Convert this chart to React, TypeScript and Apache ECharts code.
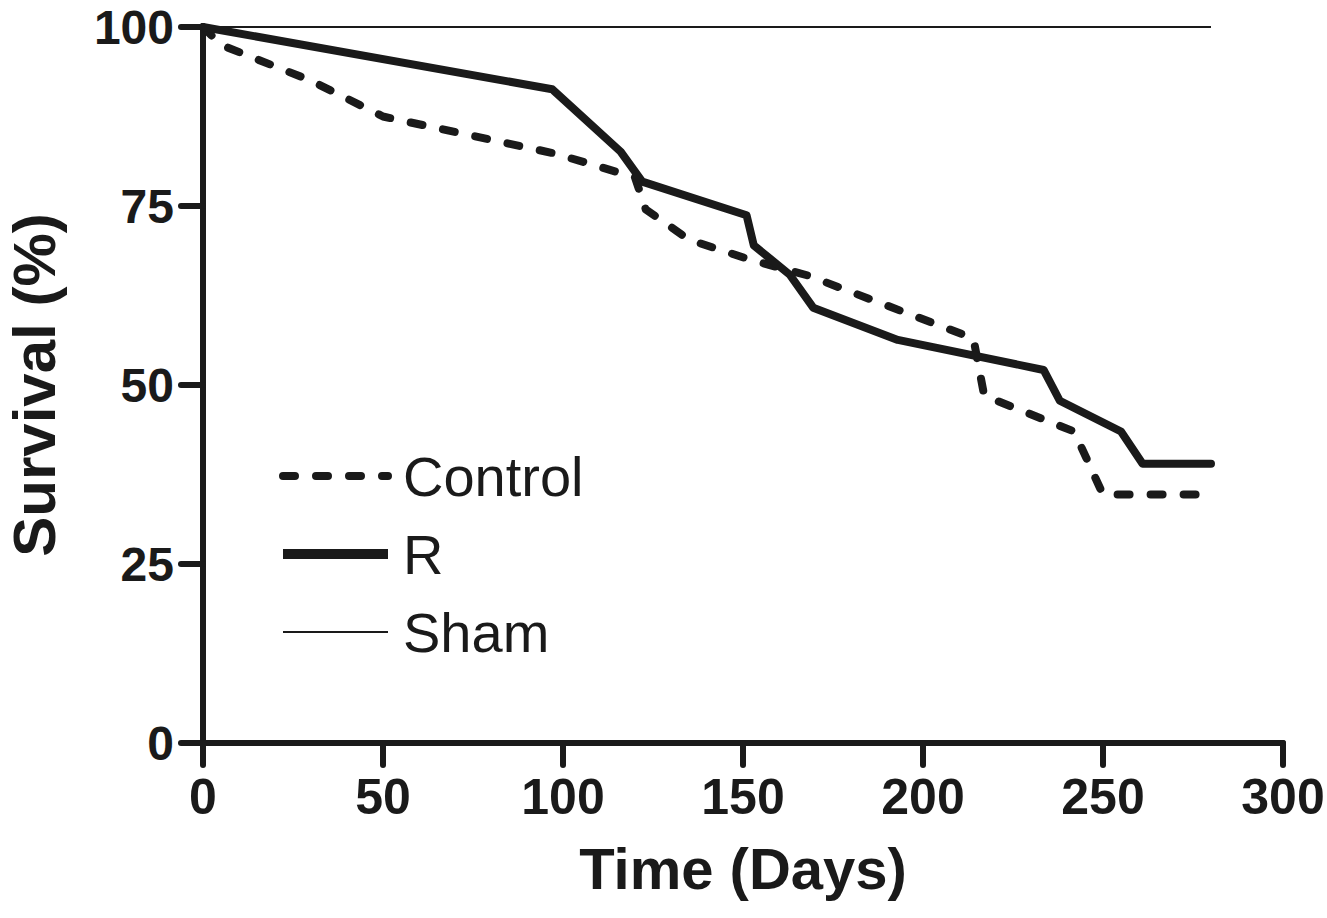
import React, { useEffect, useRef } from "react";
import * as echarts from "echarts";

// Kaplan-Meier style survival curves (Time in days, Survival in %)
const controlData: [number, number][] = [
  [0, 100], [5, 97.5], [30, 92.5], [50, 87.5], [98, 82.3], [120, 79],
  [123, 74.5], [135, 70.3], [152, 67.5], [168, 65.3], [214, 56.5],
  [217, 48.5], [242, 43.5], [250, 34.7], [280, 34.7],
];
const rData: [number, number][] = [
  [0, 100], [97, 91.3], [116, 82.6], [122, 78.4], [151, 73.7], [153, 69.5],
  [163, 65.4], [169.5, 60.8], [193, 56.3], [233.5, 52.1], [238, 47.8],
  [255, 43.5], [261, 39], [280, 39],
];
const shamData: [number, number][] = [
  [0, 100], [280, 100],
];
const seriesNames = ["Control", "R", "Sham"];
const xTitle = "Time (Days)";
const yTitle = "Survival (%)";

const INK = "#1a1a1a";
const FONT = "'Liberation Sans', Arial, Helvetica, sans-serif";

export default function App() {
  const ref = useRef<HTMLDivElement>(null);
  useEffect(() => {
    if (!ref.current) return;
    const chart = echarts.init(ref.current, null, { renderer: "svg" });
    const dash = [12, 21];
    chart.setOption({
      animation: false,
      backgroundColor: "#ffffff",
      textStyle: { fontFamily: FONT, color: INK },
      grid: {
        left: 203,
        right: 44,
        top: 27,
        bottom: 175,
        containLabel: false,
        outerBoundsMode: "none",
      },
      legend: {
        orient: "vertical",
        left: 273,
        top: 440,
        itemWidth: 105,
        itemHeight: 20,
        itemGap: 16,
        selectedMode: false,
        itemStyle: { opacity: 0 },
        textStyle: {
          fontFamily: FONT,
          fontSize: 56,
          color: INK,
          lineHeight: 62,
          padding: [0, 0, 0, 10],
        },
        data: [
          { name: seriesNames[0], lineStyle: { width: 8, type: dash, cap: "round", color: INK } },
          { name: seriesNames[1], lineStyle: { width: 10, type: "solid", cap: "butt", color: INK } },
          { name: seriesNames[2], lineStyle: { width: 2, type: "solid", color: INK } },
        ],
      },
      xAxis: {
        type: "value",
        min: 0,
        max: 300,
        interval: 50,
        name: xTitle,
        nameLocation: "middle",
        nameGap: 96,
        nameTextStyle: { fontFamily: FONT, fontSize: 58, fontWeight: "bold", color: INK },
        splitLine: { show: false },
        axisLine: { show: true, lineStyle: { color: INK, width: 6, cap: "round" } },
        axisTick: { show: true, length: 22, lineStyle: { color: INK, width: 6, cap: "round" } },
        axisLabel: { margin: 32, fontFamily: FONT, fontSize: 50, fontWeight: "bold", color: INK, lineHeight: 44 },
      },
      yAxis: {
        type: "value",
        min: 0,
        max: 100,
        interval: 25,
        name: yTitle,
        nameLocation: "middle",
        nameGap: 140,
        nameRotate: 90,
        nameTextStyle: { fontFamily: FONT, fontSize: 60, fontWeight: "bold", color: INK, lineHeight: 58 },
        splitLine: { show: false },
        axisLine: { show: true, lineStyle: { color: INK, width: 6, cap: "round" } },
        axisTick: { show: true, length: 22, lineStyle: { color: INK, width: 6, cap: "round" } },
        axisLabel: { margin: 29, fontFamily: FONT, fontSize: 48, fontWeight: "bold", color: INK, lineHeight: 40 },
      },
      series: [
        {
          name: seriesNames[0],
          type: "line",
          data: controlData,
          symbol: "none",
          z: 3,
          lineStyle: { color: INK, width: 8, type: dash, cap: "round", join: "round" },
          itemStyle: { color: INK },
        },
        {
          name: seriesNames[1],
          type: "line",
          data: rData,
          symbol: "none",
          z: 4,
          lineStyle: { color: INK, width: 8, type: "solid", cap: "round", join: "round" },
          itemStyle: { color: INK },
        },
        {
          name: seriesNames[2],
          type: "line",
          data: shamData,
          symbol: "none",
          z: 2,
          lineStyle: { color: INK, width: 2, type: "solid" },
          itemStyle: { color: INK },
        },
      ],
    });
    return () => chart.dispose();
  }, []);
  return (
    <div
      ref={ref}
      style={{ position: "fixed", left: 0, top: 0, width: 1327, height: 918, background: "#fff" }}
    />
  );
}
